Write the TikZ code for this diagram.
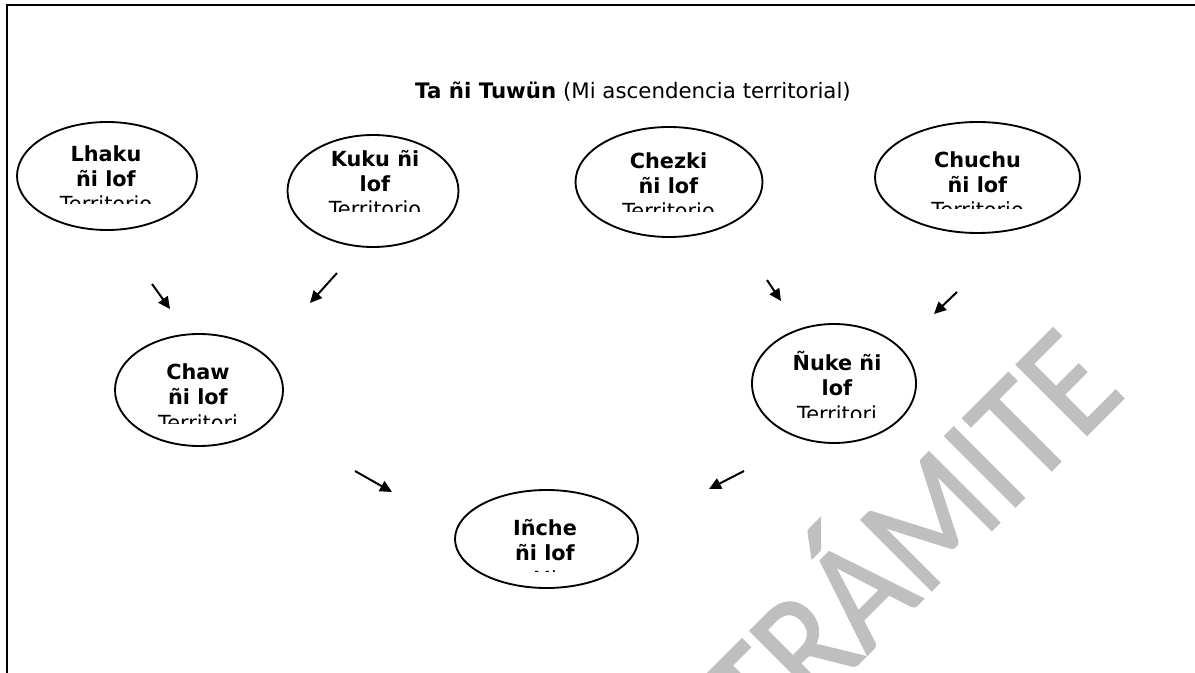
\documentclass[tikz,border=0pt]{standalone}
\usepackage{fontspec}
\setmainfont{DejaVu Sans}
\newfontfamily\marcafont[FakeBold=1.2]{Carlito}
\usetikzlibrary{shapes.geometric,arrows.meta}

\begin{document}
\begin{tikzpicture}[
    x=0.75pt, y=-0.75pt,
    marco/.style={black, line width=1.4pt},
    ovalo/.style={ellipse, draw=black, line width=1.4pt, inner sep=0pt},
    texto/.style={align=center, inner sep=0pt, anchor=base,
        font=\fontsize{15.6pt}{19pt}\selectfont},
    titulo/.style={anchor=base, inner sep=0pt, font=\fontsize{16pt}{19pt}\selectfont},
    flecha/.style={-{Triangle[length=9pt, width=8.5pt]}, line width=1.5pt},
    marca/.style={font=\marcafont\fontsize{104pt}{104pt}\selectfont, text=black!25,
        rotate=45, yscale=1.12, anchor=base east, inner sep=0pt}
]
    \useasboundingbox (0,0) rectangle (1195,673);
    % Marca de agua
    \begin{scope}
        \clip (0,0) rectangle (1195,673);
        \node[marca] (marca) at (1128,394) {TRÁMITE};
    \end{scope}
    % Marco
    \draw[marco] (7,673) -- (7,5) -- (1195,5);
    \node[titulo] (titulo) at (633,99) {\textbf{Ta ñi Tuwün} (Mi ascendencia territorial)};
    % Ovalos
    \node[ovalo, minimum width=135pt, minimum height=81pt] (lhaku) at (107,176) {};
    \node[ovalo, minimum width=128.25pt, minimum height=84pt] (kuku) at (373,191) {};
    \node[ovalo, minimum width=140.25pt, minimum height=82.5pt] (chezki) at (669,182) {};
    \node[ovalo, minimum width=153.75pt, minimum height=83.25pt] (chuchu) at (977.5,177.5) {};
    \node[ovalo, minimum width=126pt, minimum height=84pt] (chaw) at (199,390) {};
    \node[ovalo, minimum width=123pt, minimum height=89.25pt] (nuke) at (834,383.5) {};
    \node[ovalo, minimum width=137.25pt, minimum height=73.5pt] (inche) at (546.5,539) {};
    % Textos (cortados abajo)
    \begin{scope}
        \clip (17,120) rectangle (197,204);
        \node[texto] (lhaku-t) at (106,212) {\textbf{Lhaku}\\\textbf{ñi lof}\\Territorio};
    \end{scope}
    \begin{scope}
        \clip (288,130) rectangle (458,212);
        \node[texto] (kuku-t) at (375,217) {\textbf{Kuku ñi}\\\textbf{lof}\\Territorio};
    \end{scope}
    \begin{scope}
        \clip (576,125) rectangle (762,212);
        \node[texto] (chezki-t) at (668.5,219) {\textbf{Chezki}\\\textbf{ñi lof}\\Territorio};
    \end{scope}
    \begin{scope}
        \clip (876,120) rectangle (1080,209);
        \node[texto] (chuchu-t) at (977.5,218) {\textbf{Chuchu}\\\textbf{ñi lof}\\Territorio};
    \end{scope}
    \begin{scope}
        \clip (115,330) rectangle (283,423);
        \node[texto] (chaw-t) at (198,430) {\textbf{Chaw}\\\textbf{ñi lof}\\Territori};
    \end{scope}
    \begin{scope}
        \clip (752,320) rectangle (916,417);
        \node[texto] (nuke-t) at (837,421) {\textbf{Ñuke ñi}\\\textbf{lof}\\Territori};
    \end{scope}
    \begin{scope}
        \clip (455,488) rectangle (638,571);
        \node[texto] (inche-t) at (545,586) {\textbf{Iñche}\\\textbf{ñi lof}\\Mi};
    \end{scope}
    % Flechas
    \coordinate (f1s) at (152,284); \coordinate (f1e) at (170,309);
    \coordinate (f2s) at (337,273); \coordinate (f2e) at (310,303);
    \coordinate (f3s) at (767,280); \coordinate (f3e) at (781,301);
    \coordinate (f4s) at (957,292); \coordinate (f4e) at (934,314);
    \coordinate (f5s) at (355,471); \coordinate (f5e) at (392,492);
    \coordinate (f6s) at (744,471); \coordinate (f6e) at (709,489);
    \draw[flecha] (f1s) -- (f1e);
    \draw[flecha] (f2s) -- (f2e);
    \draw[flecha] (f3s) -- (f3e);
    \draw[flecha] (f4s) -- (f4e);
    \draw[flecha] (f5s) -- (f5e);
    \draw[flecha] (f6s) -- (f6e);
\end{tikzpicture}
\end{document}
